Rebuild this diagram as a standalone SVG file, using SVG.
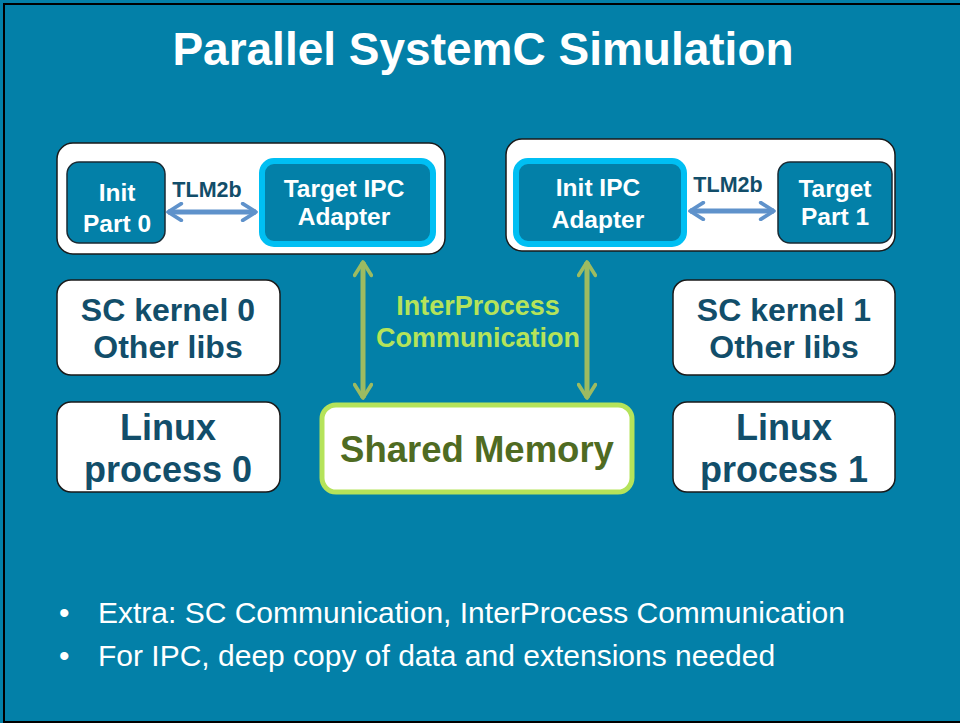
<svg xmlns="http://www.w3.org/2000/svg" width="960" height="723" viewBox="0 0 960 723">
<defs>
<style>
text{font-family:"Liberation Sans",Arial,sans-serif;font-weight:bold;text-anchor:middle}
.outer{fill:#fff;stroke:#1a1a1a;stroke-width:1.5}
.inner{fill:#0380A8;stroke:#1a2a33;stroke-width:1.5}
.ipc{fill:#0380A8;stroke:#00BFF3;stroke-width:6}
.wbox{fill:#fff;stroke:#1a1a1a;stroke-width:1.5}
.wt{fill:#fff;font-size:24.5px}
.dt{fill:#124E6A}
.tlm{fill:#124E6A;font-size:21.5px}
.blue{stroke:#5F92CB;stroke-width:5;fill:none}
.green{stroke:#9DBB61;stroke-width:5;fill:none}
.bul{font-weight:normal;text-anchor:start;fill:#fff;font-size:30px}
</style>
<marker id="ab" viewBox="0 0 12 12" refX="10" refY="6" markerWidth="4" markerHeight="4" orient="auto-start-reverse" markerUnits="strokeWidth"><path d="M2,1 L10,6 L2,11" fill="none" stroke="#5F92CB" stroke-width="2.2" stroke-linecap="round" stroke-linejoin="round"/></marker>
<marker id="ag" viewBox="0 0 12 12" refX="10" refY="6" markerWidth="4" markerHeight="4" orient="auto-start-reverse" markerUnits="strokeWidth"><path d="M2,1 L10,6 L2,11" fill="none" stroke="#9DBB61" stroke-width="2.2" stroke-linecap="round" stroke-linejoin="round"/></marker>
</defs>
<rect x="0" y="0" width="960" height="723" fill="#0380A8"/>
<rect x="4" y="4" width="962" height="718" fill="none" stroke="#000" stroke-width="2"/>
<text x="483" y="65" fill="#fff" font-size="46">Parallel SystemC Simulation</text>

<g id="left-process">
<rect class="outer" x="57" y="143" width="388" height="111" rx="16"/>
</g>
<g id="init-part0">
<rect class="inner" x="67" y="162" width="98" height="81" rx="12"/>
<text class="wt" x="117" y="201">Init</text>
<text class="wt" x="117" y="232">Part 0</text>
</g>
<g id="target-ipc-adapter">
<rect class="ipc" x="262" y="161" width="171" height="83" rx="12"/>
<text class="wt" x="344" y="197">Target IPC</text>
<text class="wt" x="344" y="225">Adapter</text>
</g>
<g id="right-process">
<rect class="outer" x="506" y="139" width="389" height="112" rx="16"/>
</g>
<g id="init-ipc-adapter">
<rect class="ipc" x="516" y="161" width="168" height="83" rx="12"/>
<text class="wt" x="598" y="196">Init IPC</text>
<text class="wt" x="598" y="228">Adapter</text>
</g>
<g id="target-part1">
<rect class="inner" x="778" y="162" width="114" height="81" rx="12"/>
<text class="wt" x="835" y="197">Target</text>
<text class="wt" x="835" y="225">Part 1</text>
</g>
<g id="sc-kernel0">
<rect class="wbox" x="57" y="280" width="223" height="95" rx="14"/>
<text class="dt" x="168" y="321" font-size="32">SC kernel 0</text>
<text class="dt" x="168" y="358" font-size="32">Other libs</text>
</g>
<g id="linux0">
<rect class="wbox" x="57" y="402" width="223" height="90" rx="14"/>
<text class="dt" x="168" y="440" font-size="36">Linux</text>
<text class="dt" x="168" y="482" font-size="36">process 0</text>
</g>
<g id="sc-kernel1">
<rect class="wbox" x="673" y="280" width="222" height="95" rx="14"/>
<text class="dt" x="784" y="321" font-size="32">SC kernel 1</text>
<text class="dt" x="784" y="358" font-size="32">Other libs</text>
</g>
<g id="linux1">
<rect class="wbox" x="673" y="402" width="222" height="90" rx="14"/>
<text class="dt" x="784" y="440" font-size="36">Linux</text>
<text class="dt" x="784" y="482" font-size="36">process 1</text>
</g>
<g id="shared-memory">
<rect x="322" y="405" width="310" height="87" rx="14" fill="#fff" stroke="#B5E35A" stroke-width="5"/>
<text x="477" y="462" fill="#4F6B22" font-size="36.5">Shared Memory</text>
</g>

<g id="connectors">
<line class="blue" x1="168" y1="212" x2="256" y2="212" marker-start="url(#ab)" marker-end="url(#ab)"/>
<text class="tlm" x="207" y="197">TLM2b</text>
<line class="blue" x1="690" y1="211" x2="774" y2="211" marker-start="url(#ab)" marker-end="url(#ab)"/>
<text class="tlm" x="728" y="192">TLM2b</text>
<line class="green" x1="363" y1="262" x2="363" y2="398" marker-start="url(#ag)" marker-end="url(#ag)"/>
<line class="green" x1="587" y1="262" x2="587" y2="398" marker-start="url(#ag)" marker-end="url(#ag)"/>
<text x="478" y="315" fill="#B5E35A" font-size="27">InterProcess</text>
<text x="478" y="347" fill="#B5E35A" font-size="27">Communication</text>
</g>

<text class="bul" x="59" y="623">•</text>
<text class="bul" x="98" y="623">Extra: SC Communication, InterProcess Communication</text>
<text class="bul" x="59" y="666">•</text>
<text class="bul" x="98" y="666">For IPC, deep copy of data and extensions needed</text>
</svg>
